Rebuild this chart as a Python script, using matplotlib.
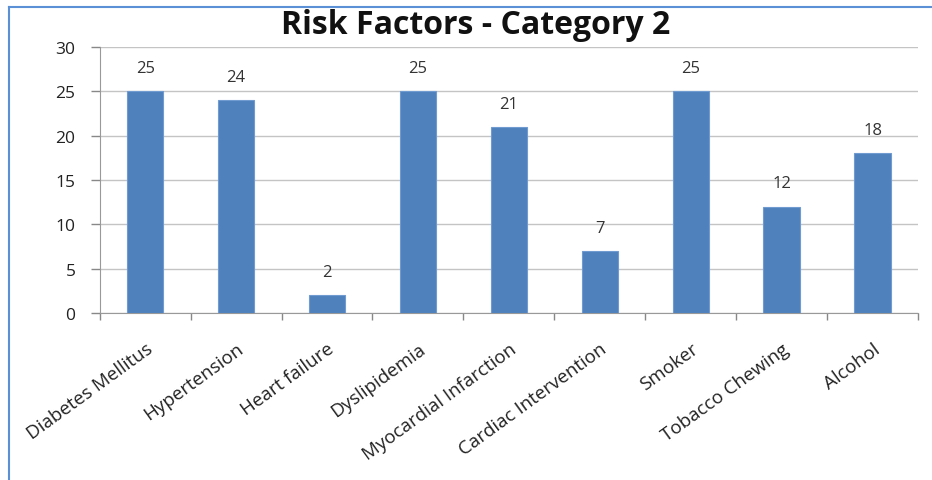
import matplotlib.pyplot as plt
from matplotlib.lines import Line2D

# Risk factor counts for category 2
categories = ['Diabetes Mellitus', 'Hypertension', 'Heart failure', 'Dyslipidemia',
              'Myocardial Infarction', 'Cardiac Intervention', 'Smoker',
              'Tobacco Chewing', 'Alcohol']
counts = [25, 24, 2, 25, 21, 7, 25, 12, 18]
y_ticks = [0, 5, 10, 15, 20, 25, 30]

plt.rcParams['font.family'] = ['Open Sans', 'DejaVu Sans']

fig = plt.figure(figsize=(9.32, 4.81), dpi=100)
ax = fig.add_axes([0.107, 0.347, 0.878, 0.553])

x = list(range(len(categories)))
bars = ax.bar(x, counts, width=0.4, color='#4f81bd', edgecolor='#6f9bd0', linewidth=0.8, zorder=3)

for rect, val in zip(bars, counts):
  ax.annotate(str(val), (rect.get_x() + rect.get_width() / 2, val),
              xytext=(0, 11), textcoords='offset points',
              ha='center', va='bottom', fontsize=12, color='#333333')

ax.set_xlim(-0.5, len(categories) - 0.5)
ax.set_ylim(0, 30)
ax.set_yticks(y_ticks)
ax.tick_params(axis='y', labelsize=12.5, colors='#888888', labelcolor='#222222',
               length=6.5, width=1, pad=11)
ax.yaxis.grid(True, color='#c4c4c4', linewidth=1, zorder=0)

# tick marks at category boundaries, names centred under each bar
ax.set_xticks([i + 0.5 for i in range(-1, len(categories))])
ax.set_xticklabels([])
ax.tick_params(axis='x', colors='#888888', length=5, width=1)
ax.set_xticks(x, minor=True)
ax.set_xticklabels(categories, minor=True, rotation=36, ha='right', rotation_mode='anchor',
                   fontsize=13.5, color='#222222')
ax.tick_params(axis='x', which='minor', length=0, pad=19)

for side in ['top', 'right']:
  ax.spines[side].set_visible(False)
for side in ['left', 'bottom']:
  ax.spines[side].set_color('#999999')

fig.text(0.51, 0.948, 'Risk Factors - Category 2', ha='center', va='center',
         fontsize=23, fontweight='bold', color='#111111')

# blue frame edges around the chart
fig.add_artist(Line2D([8.5 / 932, 8.5 / 932], [0, 1 - 8 / 481], color='#5b8fd6', linewidth=1.5))
fig.add_artist(Line2D([8.5 / 932, 1], [1 - 8 / 481, 1 - 8 / 481], color='#5b8fd6', linewidth=1.5))

fig.savefig('out.png', dpi=100)
